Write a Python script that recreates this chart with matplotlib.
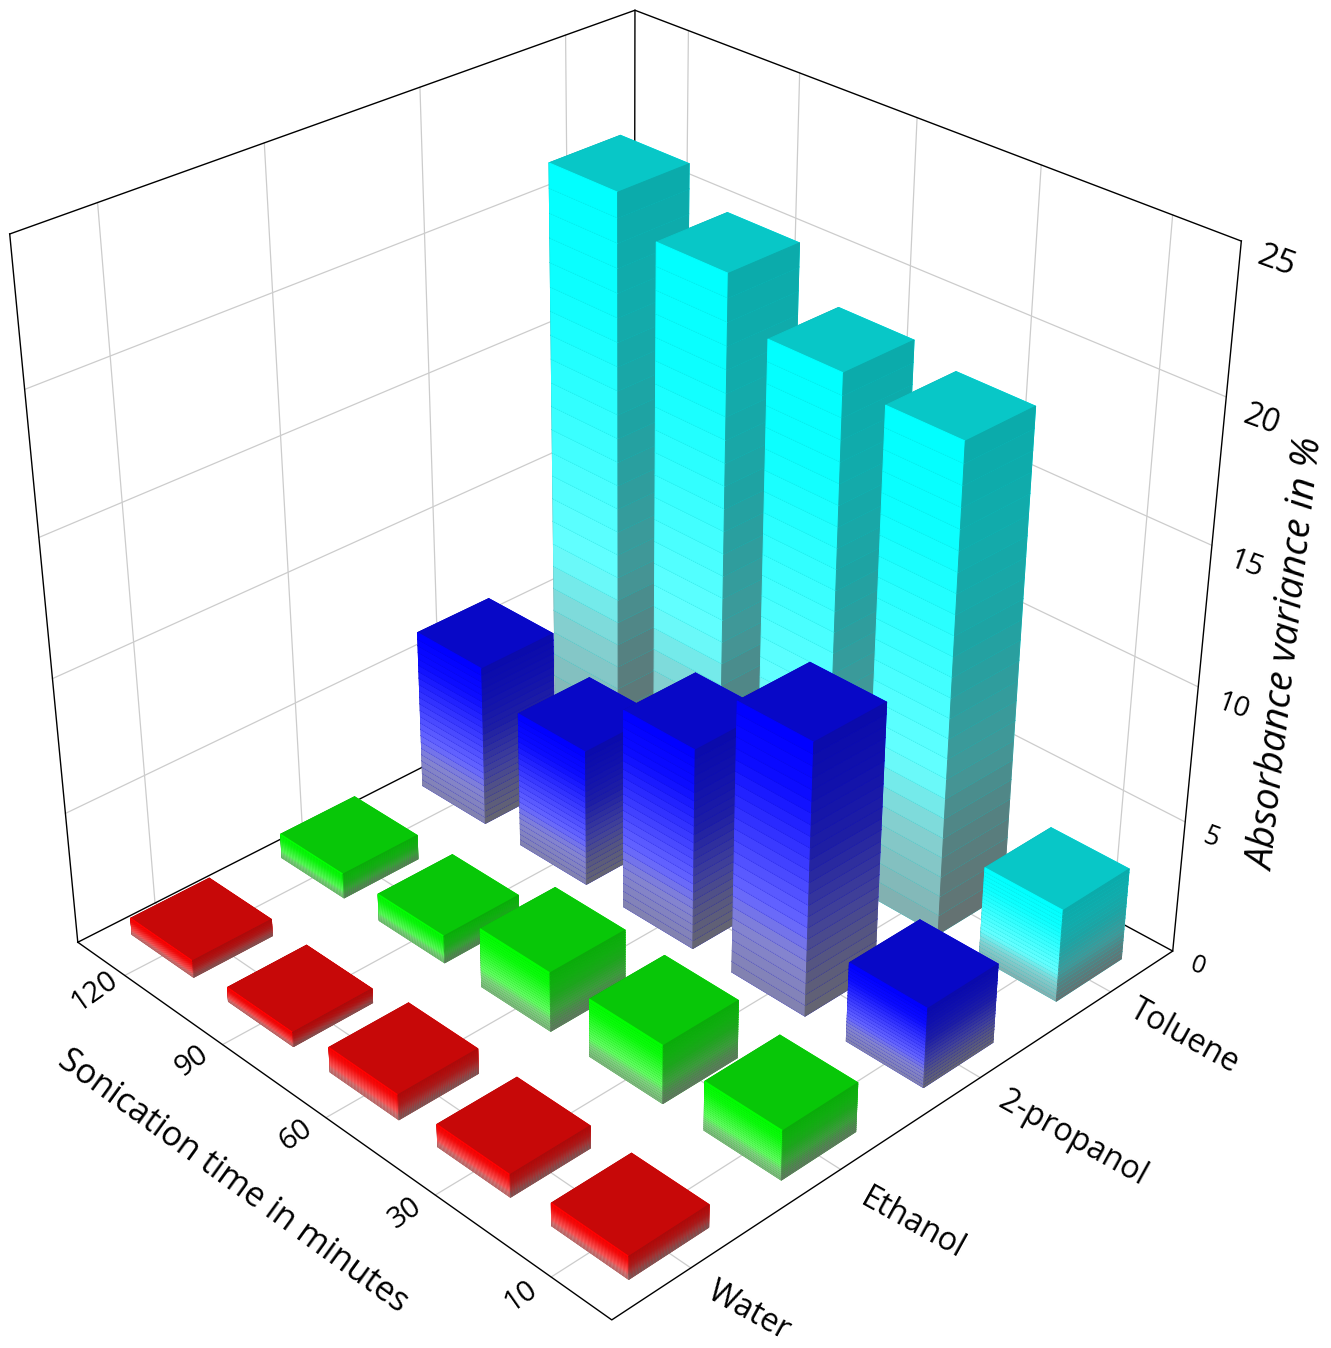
import numpy as np
import matplotlib
matplotlib.use("Agg")
import matplotlib.pyplot as plt
from mpl_toolkits.mplot3d import proj3d

plt.rcParams['font.family'] = ['Open Sans', 'DejaVu Sans']

# Categories (back to front along the time axis)
times = ['120', '90', '60', '30', '10']
solvents = ['Water', 'Ethanol', '2-propanol', 'Toluene']
z_ticks = [0, 5, 10, 15, 20, 25]

# Absorbance variance in %, same order as times
water = [0.65, 0.55, 0.95, 0.85, 0.85]
ethanol = [0.95, 1.05, 2.25, 2.2, 1.85]
propanol = [6.15, 5.2, 7.6, 10.2, 3.0]
toluene = [21.3, 20.15, 18.5, 18.05, 3.5]

series = [water, ethanol, propanol, toluene]
base_colors = [(1, 0, 0), (0, 1, 0), (0, 0, 1), (0, 1, 1)]

W, H = 1331, 1348
fig = plt.figure(figsize=(W / 100, H / 100), dpi=100)
ax = fig.add_axes([-59.2 / W, 43.1 / H, 1, 1], projection='3d')
ax.computed_zorder = False
ax.view_init(elev=30.8652, azim=-44.0413)
ax.set_proj_type('persp', focal_length=0.4996)
ax.set_box_aspect((1, 1.0063, 1.0074), zoom=1.0371)
ax.set_axis_off()

x0, x1 = -0.5, len(times) - 0.5
y0, y1 = -0.5, len(solvents) - 0.5
z1 = 25


def line(xs, ys, zs, color='black', lw=1.0, zorder=1):
    ax.plot(xs, ys, zs, color=color, lw=lw, zorder=zorder, clip_on=False)


# grid on the floor and the two back walls
grey = '#cccccc'
for i in range(len(times)):
    line([i, i], [y0, y1], [0, 0], grey, 0.9)
    line([i, i], [y1, y1], [0, z1], grey, 0.9)
for j in range(len(solvents)):
    line([x0, x1], [j, j], [0, 0], grey, 0.9)
    line([x0, x0], [j, j], [0, z1], grey, 0.9)
for z in z_ticks[1:-1]:
    line([x0, x0], [y0, y1], [z, z], grey, 0.9)
    line([x0, x1], [y1, y1], [z, z], grey, 0.9)

# box outline
line([x0, x1, x1, x0, x0], [y0, y0, y1, y1, y0], [0, 0, 0, 0, 0], zorder=2)
line([x0, x0, x1], [y0, y1, y1], [z1, z1, z1], zorder=2)
for xc, yc in [(x0, y0), (x0, y1), (x1, y1)]:
    line([xc, xc], [yc, yc], [0, z1], zorder=2)


def face_colors(c, t):
    c = np.array(c, dtype=float)
    stops = [0, 0.2, 0.33, 0.6, 0.8, 1]
    bright = [0.51 + 0.17 * c, 0.52 + 0.30 * c, 0.40 + 0.60 * c, 0.20 + 0.80 * c,
              0.05 + 0.95 * c, c]
    dark = [0.40 + 0.04 * c, 0.33 + 0.18 * c, 0.26 + 0.33 * c, 0.12 + 0.52 * c,
            0.07 + 0.60 * c, 0.04 + 0.63 * c]
    left = [np.interp(t, stops, [b[k] for b in bright]) for k in range(3)]
    right = [np.interp(t, stops, [d[k] for d in dark]) for k in range(3)]
    top = 0.03 + 0.75 * c
    # order used by bar3d: -Z, +Z, -Y, +Y, -X, +X
    return np.array([top, top, left, left, right, right])


wx, wy = 0.645, 0.515
n_seg = 24
order = sorted(((i, j) for i in range(len(times)) for j in range(len(solvents))),
               key=lambda a: a[0] / len(times) - a[1] / len(solvents))
zo = 10
for i, j in order:
    h = series[j][i]
    for s in range(n_seg):
        cols = face_colors(base_colors[j], (s + 0.5) / n_seg)
        poly = ax.bar3d(i - wx / 2, j - wy / 2, h * s / n_seg, wx, wy, h / n_seg,
                        color=cols, shade=False, edgecolor=cols, linewidth=0.7)
        poly.set_clip_on(False)
        poly.set_zorder(zo)
        zo += 1

ax.set_xlim(x0, x1)
ax.set_ylim(y0, y1)
ax.set_zlim(0, z1)


def label3d(x, y, z, s, rot, size, dx=0, dy=0):
    # Text3D drops the rotation, so project the anchor and use a 2D annotation
    px, py, _ = proj3d.proj_transform(x, y, z, ax.get_proj())
    ax.annotate(s, (px, py), xycoords='data', xytext=(dx, dy), textcoords='offset pixels',
                rotation=rot, fontsize=size, ha='center', va='center',
                rotation_mode='anchor', zorder=5000, annotation_clip=False)


# tick labels, placed just outside the box
for i, lab in enumerate(times):
    label3d(i, y0 - 0.19, 0, lab, 35, 21)
solvent_dx = [-20, -6, 15, -3]
solvent_dy = [10, -5, -15, -2]
for j, lab in enumerate(solvents):
    label3d(x1 + 0.62, j, 0, lab, -29, 23, solvent_dx[j], solvent_dy[j])
z_dx = [0, 0, 9, 7, 8, 7]
z_dy = [-2, -3, -8, -8, -12, -10]
for k, z in enumerate(z_ticks):
    label3d(x1 + 0.2, y1, z, str(z), -20, 18 + z * 0.24, z_dx[k], z_dy[k])

fig.text(233 / W, 1 - 1181 / H, 'Sonication time in minutes', rotation=-36, fontsize=24.7,
         ha='center', va='center', rotation_mode='anchor')
fig.text(1288 / W, 1 - 655 / H, 'Absorbance variance in %', rotation=83.5, fontsize=27.5,
         style='italic', ha='center', va='center', rotation_mode='anchor')

fig.savefig('out.png', dpi=100)
